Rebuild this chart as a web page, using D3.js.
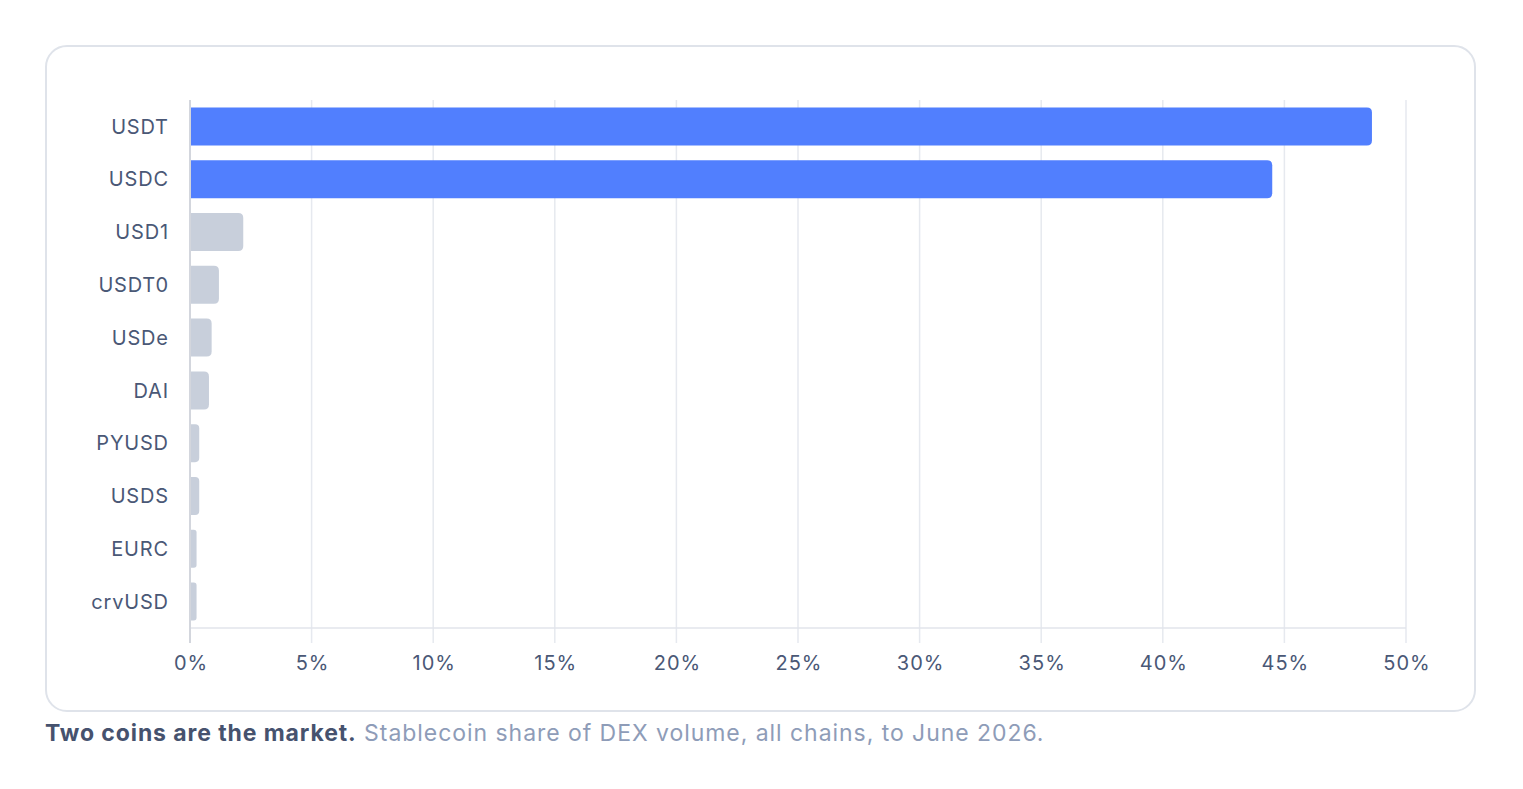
<!DOCTYPE html>
<html>
<head>
<meta charset="utf-8">
<script src="https://cdn.jsdelivr.net/npm/d3@7"></script>
<style>
  body { margin: 0; background: #fff; font-family: Inter, "Noto Sans", sans-serif; }
  #card {
    position: absolute; left: 45px; top: 45px; width: 1427px; height: 663px;
    border: 2px solid #dfe3ea; border-radius: 22px; box-sizing: content-box;
  }
  #caption {
    position: absolute; left: 45px; top: 719px; font-size: 23px; letter-spacing: 0.95px;
    color: #8e9cb8; white-space: nowrap;
  }
  #caption b { color: #46526e; font-weight: 700; letter-spacing: 0.9px; }
</style>
</head>
<body>
<div id="card"></div>
<svg id="chart" width="1523" height="789" style="position:absolute;left:0;top:0"></svg>
<div id="caption"><b>Two coins are the market.</b> Stablecoin share of DEX volume, all chains, to June 2026.</div>
<script>
// data
const coins = ["USDT", "USDC", "USD1", "USDT0", "USDe", "DAI", "PYUSD", "USDS", "EURC", "crvUSD"]
const shares = [48.6, 44.5, 2.19, 1.19, 0.89, 0.78, 0.38, 0.38, 0.27, 0.27]
const highlighted = ["USDT", "USDC"]
const xTicks = [0, 5, 10, 15, 20, 25, 30, 35, 40, 45, 50]

const dataset = coins.map((c, i) => ({coin: c, share: shares[i]}))

// dimensions
const dimensions = {
  left: 190,
  right: 1406,
  top: 100,
  bottom: 628,
}

const svg = d3.select("#chart")

// scales
const xScale = d3.scaleLinear()
  .domain([0, 50])
  .range([dimensions.left, dimensions.right])

const yScale = d3.scaleBand()
  .domain(coins)
  .range([dimensions.top, dimensions.bottom])
  .paddingInner(0.28)
  .paddingOuter(0.14)

// grid lines
svg.append("g")
  .selectAll("line")
  .data(xTicks.slice(1))
  .join("line")
    .attr("x1", d => xScale(d))
    .attr("x2", d => xScale(d))
    .attr("y1", dimensions.top)
    .attr("y2", dimensions.bottom + 15)
    .attr("stroke", "#e6e9ef")
    .attr("stroke-width", 1.5)

// bottom baseline
svg.append("line")
  .attr("x1", dimensions.left)
  .attr("x2", dimensions.right)
  .attr("y1", dimensions.bottom)
  .attr("y2", dimensions.bottom)
  .attr("stroke", "#e2e5eb")
  .attr("stroke-width", 1.5)

// bars, rounded on the right end only
const r = 5
function barPath(d) {
  const x0 = xScale(0) + 1
  const x1 = xScale(d.share)
  const y0 = yScale(d.coin)
  const h = yScale.bandwidth()
  const rr = Math.min(r, (x1 - x0) / 2, h / 2)
  return `M${x0},${y0} H${x1 - rr} Q${x1},${y0} ${x1},${y0 + rr}` +
    ` V${y0 + h - rr} Q${x1},${y0 + h} ${x1 - rr},${y0 + h} H${x0} Z`
}

svg.append("g")
  .selectAll("path")
  .data(dataset)
  .join("path")
    .attr("d", barPath)
    .attr("fill", d => highlighted.includes(d.coin) ? "#517ffe" : "#c8cfdb")

// left axis line
svg.append("line")
  .attr("x1", dimensions.left)
  .attr("x2", dimensions.left)
  .attr("y1", dimensions.top)
  .attr("y2", dimensions.bottom + 15)
  .attr("stroke", "#d3d6dd")
  .attr("stroke-width", 2)

// x axis labels
const xAxis = svg.append("g")
  .attr("transform", `translate(0, ${dimensions.bottom})`)
  .call(d3.axisBottom(xScale).tickValues(xTicks).tickFormat(d => d + "%").tickSize(0).tickPadding(42))
xAxis.select(".domain").remove()
xAxis.selectAll("text")
  .attr("fill", "#4a5876")
  .style("font-family", "Inter, sans-serif")
  .style("font-size", "20px")
  .style("letter-spacing", "1px")
  .attr("dx", "0.5px")
  .attr("dy", 0)

// y axis labels
const yAxis = svg.append("g")
  .attr("transform", `translate(${dimensions.left}, 0)`)
  .call(d3.axisLeft(yScale).tickSize(0).tickPadding(22))
yAxis.select(".domain").remove()
yAxis.selectAll("text")
  .attr("fill", "#4a5876")
  .style("font-family", "Inter, sans-serif")
  .style("font-size", "20px")
  .style("letter-spacing", "0.8px")
  .attr("dx", "0.8px")
  .attr("dy", "0.36em")
</script>
</body>
</html>
